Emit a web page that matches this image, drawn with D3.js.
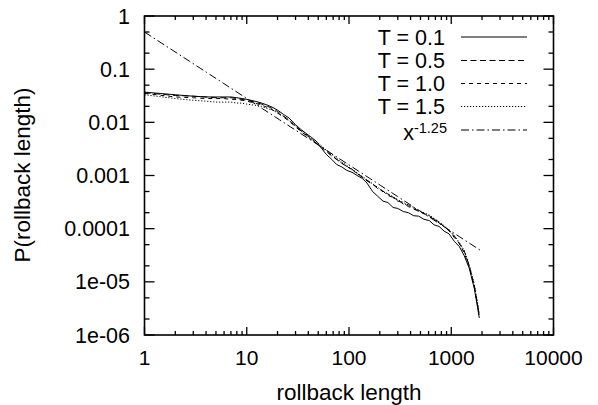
<!DOCTYPE html>
<html><head><meta charset="utf-8">
<script src="https://cdn.jsdelivr.net/npm/d3@7"></script>
<style>
html,body{margin:0;padding:0;background:#fff;}
svg text{font-family:"Liberation Sans",Arial,Helvetica,sans-serif;fill:#000;}
</style></head>
<body><svg id="c" width="598" height="405"></svg>
<script>
const rollbackLength = [1,2,3,4,5,6,7,8,9,10,12,14,16,18,20,23,26,30,34,38,43,48,54,60,68,76,85,95,107,120,135,150,170,190,215,240,270,300,340,380,430,480,540,610,680,760,850,950,1070,1200,1340,1500,1680,1800,1880];
const pT01 = [0.037,0.033,0.031,0.030,0.030,0.030,0.030,0.029,0.028,0.027,0.025,0.023,0.021,0.019,0.017,0.014,0.012,0.0090,0.0073,0.0062,0.0052,0.0044,0.0032,0.0025,0.0020,0.0016,0.00145,0.00125,0.00115,0.00100,0.00088,0.00072,0.00050,0.00041,0.00033,0.00031,0.00025,0.00024,0.00021,0.00020,0.000175,0.000172,0.000150,0.000142,0.000118,0.000110,0.000090,0.000080,0.000058,0.000046,0.000031,0.000018,0.0000075,0.0000035,0.0000021];
const pT05 = [0.036,0.032,0.031,0.030,0.029,0.029,0.029,0.028,0.027,0.026,0.024,0.022,0.020,0.018,0.016,0.013,0.011,0.0085,0.0069,0.0058,0.0049,0.0040,0.0034,0.0029,0.0023,0.0020,0.0017,0.00148,0.00131,0.00108,0.00094,0.00079,0.00069,0.00057,0.00051,0.00042,0.00039,0.00033,0.00031,0.00026,0.00024,0.00021,0.000195,0.000166,0.000152,0.000128,0.000112,0.000090,0.000073,0.000052,0.000038,0.000020,0.0000085,0.0000040,0.0000024];
const pT10 = [0.035,0.030,0.029,0.028,0.028,0.028,0.027,0.027,0.026,0.025,0.023,0.021,0.019,0.017,0.015,0.0125,0.0105,0.0082,0.0067,0.0057,0.0047,0.0040,0.0034,0.0028,0.0024,0.0020,0.0017,0.0015,0.00126,0.00110,0.00092,0.00082,0.00068,0.00060,0.00049,0.00045,0.00038,0.00035,0.00029,0.00028,0.00023,0.00022,0.00019,0.000175,0.000148,0.000135,0.000108,0.000093,0.000068,0.000053,0.000035,0.000019,0.0000080,0.0000038,0.0000023];
const pT15 = [0.033,0.028,0.026,0.025,0.024,0.024,0.024,0.023,0.023,0.022,0.021,0.020,0.018,0.017,0.015,0.0128,0.0108,0.0086,0.0071,0.0060,0.0050,0.0043,0.0036,0.0030,0.0025,0.0021,0.0018,0.00155,0.00132,0.00112,0.00096,0.00083,0.00070,0.00060,0.00051,0.00045,0.00040,0.00035,0.00031,0.00028,0.00025,0.00022,0.00020,0.00018,0.000155,0.000135,0.000114,0.000094,0.000074,0.000055,0.000039,0.000021,0.0000090,0.0000042,0.0000025];
const powerLawX = [1,2000];
const powerLawC = 0.5, powerLawExp = -1.25;
const xTickLabels = ["1","10","100","1000","10000"];
const yTickLabels = ["1e-06","1e-05","0.0001","0.001","0.01","0.1","1"];
const legendLabels = ["T = 0.1","T = 0.5","T = 1.0","T = 1.5"];

const svg = d3.select("#c");
const L=144.5,R=553.5,T=16,B=335;
const x = d3.scaleLog().domain([1,10000]).range([L,R]);
const y = d3.scaleLog().domain([1e-6,1]).range([B,T]);
const col="#000";
const styles = [
  {dash:null},
  {dash:"6,3.5"},
  {dash:"4,4"},
  {dash:"1.2,1.8"},
  {dash:"8,3,1.5,3"}
];

// series
const series=[pT01,pT05,pT10,pT15];
const line=d3.line().x(d=>x(d[0])).y(d=>y(d[1]));
series.forEach((s,i)=>{
  svg.append("path").datum(rollbackLength.map((v,j)=>[v,s[j]]))
    .attr("d",line).attr("fill","none").attr("stroke",col).attr("stroke-width",1)
    .attr("stroke-dasharray",styles[i].dash);
});
const plX = d3.range(0,61).map(k=>Math.pow(10,Math.log10(powerLawX[0])+(Math.log10(powerLawX[1])-Math.log10(powerLawX[0]))*k/60));
svg.append("path").datum(plX.map(v=>[v,powerLawC*Math.pow(v,powerLawExp)]))
  .attr("d",line).attr("fill","none").attr("stroke",col).attr("stroke-width",1)
  .attr("stroke-dasharray",styles[4].dash);

// ticks
const g=svg.append("g").attr("stroke","#000").attr("stroke-width",1.3);
const xMajors=xTickLabels.map(Number);
const xMinors=[];
for(let d=1;d<10000;d*=10) for(let k=2;k<=9;k++) xMinors.push(d*k);
const yMajors=yTickLabels.map(Number);
const yMinors=[];
for(let d=1e-6;d<0.99;d*=10){yMinors.push(d*2);yMinors.push(d*5);}
xMajors.forEach(v=>{const px=x(v);
  g.append("line").attr("x1",px).attr("x2",px).attr("y1",B).attr("y2",B-8);
  g.append("line").attr("x1",px).attr("x2",px).attr("y1",T).attr("y2",T+8);});
xMinors.forEach(v=>{const px=x(v);
  g.append("line").attr("x1",px).attr("x2",px).attr("y1",B).attr("y2",B-4);
  g.append("line").attr("x1",px).attr("x2",px).attr("y1",T).attr("y2",T+4);});
yMajors.forEach(v=>{const py=y(v);
  g.append("line").attr("x1",L).attr("x2",L+10).attr("y1",py).attr("y2",py);
  g.append("line").attr("x1",R).attr("x2",R-10).attr("y1",py).attr("y2",py);});
yMinors.forEach(v=>{const py=y(v);
  g.append("line").attr("x1",L).attr("x2",L+5).attr("y1",py).attr("y2",py);
  g.append("line").attr("x1",R).attr("x2",R-5).attr("y1",py).attr("y2",py);});
svg.append("rect").attr("x",L).attr("y",T).attr("width",R-L).attr("height",B-T)
  .attr("fill","none").attr("stroke","#000").attr("stroke-width",1.6);

// tick labels
xTickLabels.forEach(t=>{
  svg.append("text").attr("x",x(+t)).attr("y",365).attr("text-anchor","middle")
    .attr("font-size",21).text(t);});
yTickLabels.forEach(t=>{
  svg.append("text").attr("x",130).attr("y",y(+t)+7.5).attr("text-anchor","end")
    .attr("font-size",21.5).text(t);});
svg.append("text").attr("x",349).attr("y",400).attr("text-anchor","middle")
  .attr("font-size",22.5).text("rollback length");
svg.append("text").attr("transform","translate(30,175) rotate(-90)").attr("text-anchor","middle")
  .attr("font-size",22.5).text("P(rollback length)");

// legend
const rowY=[37,60.5,83.5,106.5,130];
legendLabels.forEach((lab,i)=>{
  svg.append("text").attr("x",445).attr("y",rowY[i]+7.5).attr("text-anchor","end")
    .attr("font-size",21.5).text(lab);
  svg.append("line").attr("x1",461).attr("x2",527).attr("y1",rowY[i]).attr("y2",rowY[i])
    .attr("stroke",col).attr("stroke-width",1).attr("stroke-dasharray",styles[i].dash);
});
const pt=svg.append("text").attr("x",447).attr("y",rowY[4]+9.5).attr("text-anchor","end").attr("font-size",21.5);
pt.append("tspan").text("x");
pt.append("tspan").attr("dy",-7).attr("font-size",14.5).text("-1.25");
svg.append("line").attr("x1",461).attr("x2",527).attr("y1",rowY[4]).attr("y2",rowY[4])
  .attr("stroke",col).attr("stroke-width",1).attr("stroke-dasharray",styles[4].dash);
</script></body></html>
